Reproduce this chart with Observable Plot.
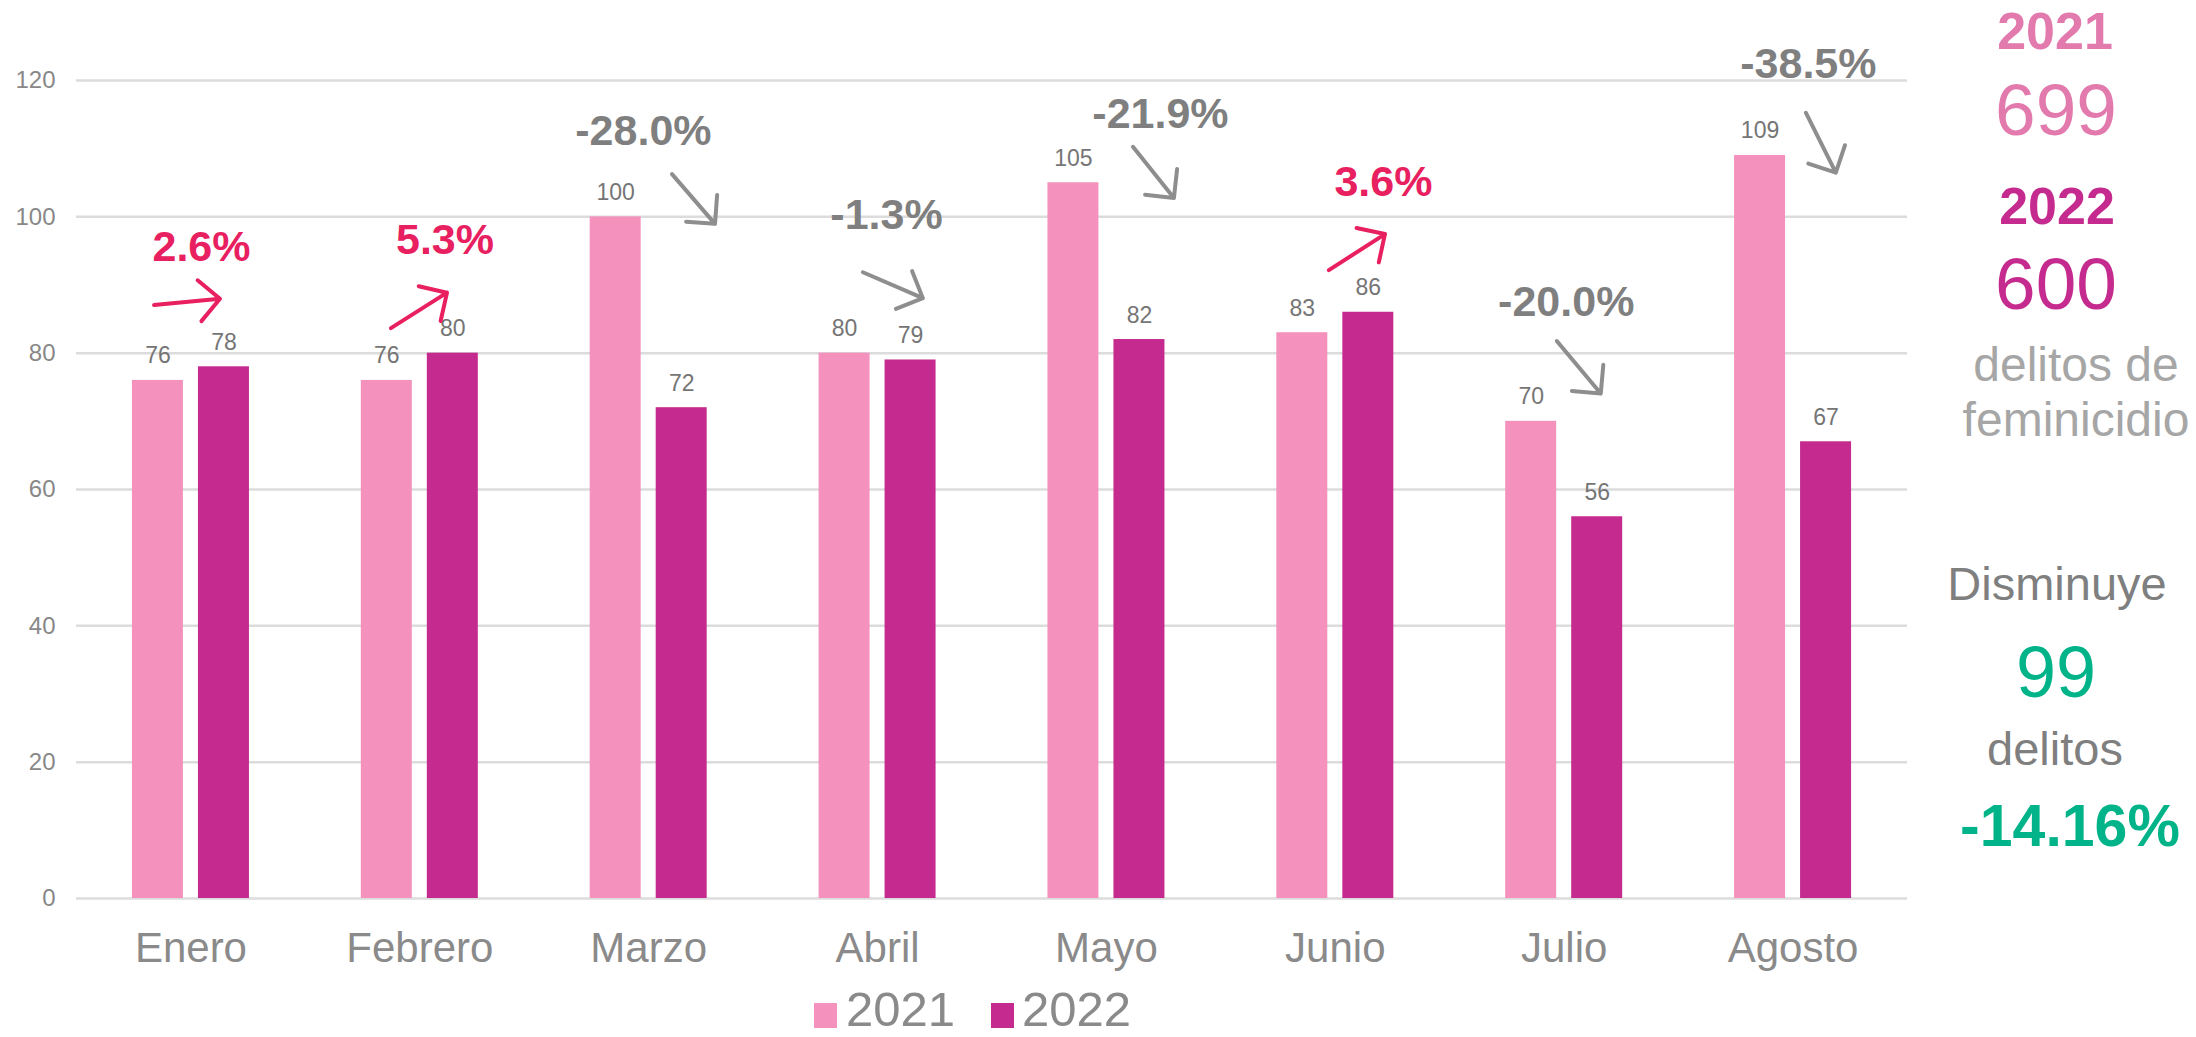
<!DOCTYPE html>
<html>
<head>
<meta charset="utf-8">
<script src="https://cdn.jsdelivr.net/npm/d3@7"></script>
<script src="https://cdn.jsdelivr.net/npm/@observablehq/plot@0.6"></script>
<style>
html, body { margin: 0; padding: 0; background: #fff; }
body { width: 2196px; height: 1037px; overflow: hidden; position: relative;
       font-family: "Liberation Sans", Arial, Helvetica, sans-serif; }
#chart { position: absolute; left: 0; top: 0; }
.t { position: absolute; line-height: 1; white-space: nowrap; }
.sw { position: absolute; }
</style>
</head>
<body>
<div id="chart"></div>
<div id="legend"></div>
<div id="side"></div>
<script>
// ---- data ----
const months = ["Enero", "Febrero", "Marzo", "Abril", "Mayo", "Junio", "Julio", "Agosto"];
const v2021 = [76, 76, 100, 80, 105, 83, 70, 109];
const v2022 = [78, 80, 72, 79, 82, 86, 56, 67];
const pctLabels = ["2.6%", "5.3%", "-28.0%", "-1.3%", "-21.9%", "3.6%", "-20.0%", "-38.5%"];
const yTicks = [0, 20, 40, 60, 80, 100, 120];
const seriesNames = ["2021", "2022"];
const total2021 = "699";
const total2022 = "600";
const totalUnit = ["delitos de", "feminicidio"];
const diffWord = "Disminuye";
const diffCount = "99";
const diffUnit = "delitos";
const diffPct = "-14.16%";

// ---- annotation placement (chart units: month index, count) ----
const pctAnchor = [[0.046, 93.5], [1.110, 94.6], [1.977, 110.5], [3.039, 98.2],
                   [4.236, 113.0], [5.210, 103.0], [6.009, 85.4], [7.067, 120.3]];
const arrowAnchor = [[-0.159, 87.0, 0.129, 87.9], [0.876, 83.6, 1.121, 88.8],
                     [2.104, 106.2, 2.292, 98.9], [2.938, 91.8, 3.200, 88.0],
                     [4.118, 110.2, 4.297, 102.7], [4.974, 92.1, 5.219, 97.4],
                     [5.970, 81.7, 6.162, 74.0], [7.058, 115.2, 7.189, 106.4]];

// ---- styles ----
const C21 = "#f492bd", C22 = "#c52a8e";
const RED = "#e8205f", GRAYTXT = "#7f7f7f", GRAYARW = "#8e8e8e";
const GREEN = "#00b388";

const rows = months.map((m, i) => ({month: m, i, a: v2021[i], b: v2022[i]}));
const up = (i) => v2022[i] > v2021[i];

const IN = 0.0328, OUT = 0.2556, MID = (IN + OUT) / 2;

const arrowsMark = (index, scales) => {
  const g = d3.create("svg:g");
  arrowAnchor.forEach((a, i) => {
    const x1 = scales.x(a[0]), y1 = scales.y(a[1]);
    const x2 = scales.x(a[2]), y2 = scales.y(a[3]);
    const ang = Math.atan2(y2 - y1, x2 - x1);
    const L = 29, w = Math.PI / 4;
    const ax = x2 - L * Math.cos(ang - w), ay = y2 - L * Math.sin(ang - w);
    const bx = x2 - L * Math.cos(ang + w), by = y2 - L * Math.sin(ang + w);
    g.append("path")
      .attr("d", `M${x1},${y1}L${x2},${y2}M${ax},${ay}L${x2},${y2}L${bx},${by}`)
      .attr("fill", "none")
      .attr("stroke", up(i) ? RED : GRAYARW)
      .attr("stroke-width", 4)
      .attr("stroke-linecap", "round")
      .attr("stroke-linejoin", "round");
  });
  return g.node();
};

const chart = Plot.plot({
  width: 2196,
  height: 990,
  marginLeft: 76,
  marginRight: 289,
  marginTop: 80,
  marginBottom: 92,
  style: {fontFamily: '"Liberation Sans", Arial, sans-serif', background: "transparent", overflow: "visible"},
  x: {type: "linear", domain: [-0.5, months.length - 0.5]},
  y: {domain: [0, 120]},
  color: {type: "identity"},
  marks: [
    Plot.gridY(yTicks, {stroke: "#dcdcdc", strokeOpacity: 1, strokeWidth: 2.5}),
    Plot.axisY(yTicks, {tickSize: 0, tickPadding: 21, fontSize: 24, color: "#888888", label: null}),
    Plot.axisX(d3.range(months.length), {tickSize: 0, tickPadding: 34, fontSize: 42, color: "#8a8a8a",
      tickFormat: (d) => months[d], label: null}),
    Plot.rectY(rows, {x1: (d) => d.i - OUT, x2: (d) => d.i - IN, y: "a", fill: C21}),
    Plot.rectY(rows, {x1: (d) => d.i + IN, x2: (d) => d.i + OUT, y: "b", fill: C22}),
    Plot.text(rows, {x: (d) => d.i - MID, y: "a", text: (d) => String(d.a), lineAnchor: "bottom",
      dy: -17, fontSize: 23, fill: "#757575"}),
    Plot.text(rows, {x: (d) => d.i + MID, y: "b", text: (d) => String(d.b), lineAnchor: "bottom",
      dy: -17, fontSize: 23, fill: "#757575"}),
    Plot.text(rows, {x: (d) => pctAnchor[d.i][0], y: (d) => pctAnchor[d.i][1],
      text: (d) => pctLabels[d.i], lineAnchor: "bottom", fontSize: 43, fontWeight: "bold",
      fill: (d) => up(d.i) ? RED : GRAYTXT}),
    arrowsMark
  ]
});
document.getElementById("chart").appendChild(chart);

// ---- helpers for HTML text placed by baseline ----
function put(parent, text, cx, baseline, size, color, weight, align) {
  const d = document.createElement("div");
  d.className = "t";
  d.textContent = text;
  const top = baseline - 0.8465 * size;
  if (align === "left") {
    d.style.left = cx + "px";
  } else {
    d.style.left = (cx - 200) + "px";
    d.style.width = "400px";
    d.style.textAlign = "center";
  }
  d.style.top = top + "px";
  d.style.fontSize = size + "px";
  d.style.color = color;
  d.style.fontWeight = weight || "normal";
  parent.appendChild(d);
}

// legend
const legend = document.getElementById("legend");
[[814, 846, C21, seriesNames[0]], [991, 1022, C22, seriesNames[1]]].forEach(([sx, tx, c, name]) => {
  const s = document.createElement("div");
  s.className = "sw";
  s.style.cssText = `left:${sx}px;top:1003px;width:23px;height:25px;background:${c};`;
  legend.appendChild(s);
  put(legend, name, tx, 1026, 49, "#8a8a8a", "normal", "left");
});

// side panel
const side = document.getElementById("side");
put(side, seriesNames[0], 2055, 49, 52, "#e27aad", "bold");
put(side, total2021, 2056, 135, 73, "#e27aad");
put(side, seriesNames[1], 2057, 224, 52, C22, "bold");
put(side, total2022, 2056, 309, 73, C22);
put(side, totalUnit[0], 2076, 382, 48, "#a6a6a6");
put(side, totalUnit[1], 2076, 437, 48, "#a6a6a6");
put(side, diffWord, 2057, 600, 47, "#7f7f7f");
put(side, diffCount, 2056, 697, 72, GREEN);
put(side, diffUnit, 2055, 765, 47, "#7f7f7f");
put(side, diffPct, 2070, 847, 59, GREEN, "bold");
</script>
</body>
</html>
